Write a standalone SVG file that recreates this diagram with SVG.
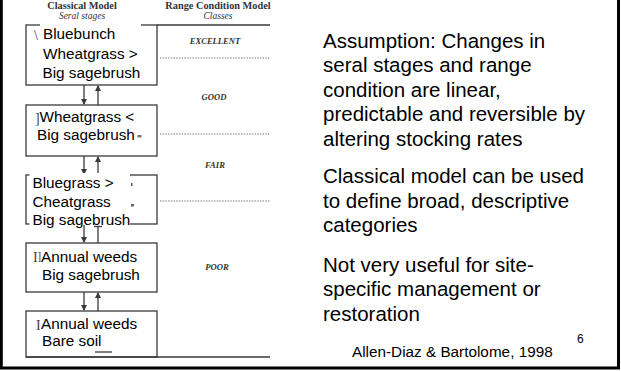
<svg xmlns="http://www.w3.org/2000/svg" width="621" height="371" viewBox="0 0 621 371">
<style>
.scan{fill:none;stroke:#3a3a3a;stroke-width:1.3}
.dot{fill:none;stroke:#7a7a7a;stroke-width:1;stroke-dasharray:1.5 1.2}
.lbl{fill:#fff}
.bt{font-family:"Liberation Sans",Arial,sans-serif;font-size:15.3px;fill:#000}
.hd{font-family:"Liberation Serif","Times New Roman",serif;font-size:10.3px;font-weight:bold;fill:#333;text-anchor:middle}
.hi{font-family:"Liberation Serif","Times New Roman",serif;font-size:9.5px;font-style:italic;fill:#333;text-anchor:middle}
.cls{font-family:"Liberation Serif","Times New Roman",serif;font-size:8.6px;font-style:italic;font-weight:bold;fill:#333;text-anchor:middle}
.rn{font-family:"Liberation Serif","Times New Roman",serif;font-size:14px;fill:#444}
.body{font-family:"Liberation Sans",Arial,sans-serif;font-size:20.5px;fill:#000}
.ref{font-family:"Liberation Sans",Arial,sans-serif;font-size:15.3px;fill:#000}
.ah{fill:#3a3a3a}
</style>
<defs>
<marker id="arr" viewBox="0 0 6 6" refX="5" refY="3" markerWidth="5" markerHeight="5" orient="auto">
<path d="M0,0 L6,3 L0,6 z" class="ah"/>
</marker>
</defs>
<rect width="621" height="371" fill="#fff"/>
<!-- slide frame -->
<path d="M1.3,-2 V368 H618.5 V-2" fill="none" stroke="#000" stroke-width="3"/>

<!-- header of scanned figure -->
<g id="header">
<text class="hd" x="82" y="8.5">Classical Model</text>
<text class="hi" x="82" y="19">Seral stages</text>
<text class="hd" x="218" y="8.5">Range Condition Model</text>
<text class="hi" x="218" y="19">Classes</text>
<line class="scan" x1="157" y1="25" x2="270" y2="25"/>
<line class="scan" x1="26" y1="357" x2="270" y2="357"/>
</g>

<!-- range classes -->
<g id="classes">
<text class="cls" x="215" y="44">EXCELLENT</text>
<line class="dot" x1="160" y1="58" x2="270" y2="58"/>
<text class="cls" x="214" y="100">GOOD</text>
<line class="dot" x1="160" y1="134" x2="270" y2="134"/>
<text class="cls" x="215" y="168">FAIR</text>
<line class="dot" x1="160" y1="201" x2="270" y2="201"/>
<text class="cls" x="217" y="270">POOR</text>
</g>

<!-- connectors -->
<g id="connectors">
<line class="scan" x1="84" y1="85" x2="84" y2="104" marker-end="url(#arr)"/>
<line class="scan" x1="98" y1="105" x2="98" y2="86" marker-end="url(#arr)"/>
<line class="scan" x1="84" y1="156" x2="84" y2="174" marker-end="url(#arr)"/>
<line class="scan" x1="98" y1="175" x2="98" y2="157" marker-end="url(#arr)"/>
<line class="scan" x1="84" y1="224" x2="84" y2="242" marker-end="url(#arr)"/>
<line class="scan" x1="98" y1="243" x2="98" y2="226"/>
<line class="scan" x1="94" y1="226.5" x2="102" y2="226.5"/>
<line class="scan" x1="84" y1="292" x2="84" y2="310" marker-end="url(#arr)"/>
<line class="scan" x1="98" y1="311" x2="98" y2="293" marker-end="url(#arr)"/>
</g>

<!-- seral stage boxes -->
<g id="stage1">
<rect class="scan" x="26" y="25" width="131" height="60"/>
<text class="rn" x="34" y="40">\</text>
<rect class="lbl" x="40" y="22" width="101" height="60"/>
<text class="bt" x="43" y="39">Bluebunch</text>
<text class="bt" x="43" y="59">Wheatgrass &gt;</text>
<text class="bt" x="42.5" y="78">Big sagebrush</text>
</g>

<g id="stage2">
<rect class="scan" x="26" y="105" width="131" height="51"/>
<text class="rn" x="35" y="123">]</text>
<rect class="lbl" x="39" y="108" width="98" height="38"/>
<text class="bt" x="39.5" y="122">Wheatgrass &lt;</text>
<text class="bt" x="37" y="140">Big sagebrush</text>
<rect x="137.5" y="135" width="4" height="2.5" fill="#777"/>
</g>

<g id="stage3">
<rect class="scan" x="26" y="175" width="131" height="49"/>
<rect class="lbl" x="29.5" y="173" width="100.5" height="52"/>
<text class="bt" x="32.5" y="188">Bluegrass &gt;</text>
<text class="bt" x="32.5" y="207">Cheatgrass</text>
<text class="bt" x="32.5" y="224.5">Big sagebrush</text>
<rect x="131" y="183" width="1.5" height="3" fill="#555"/>
<rect x="131" y="204" width="3" height="2.5" fill="#666"/>
</g>

<g id="stage4">
<rect class="scan" x="26" y="243" width="131" height="49"/>
<text class="rn" x="33" y="262">II</text>
<rect class="lbl" x="40.5" y="247" width="99" height="38"/>
<text class="bt" x="41" y="262">Annual weeds</text>
<text class="bt" x="42" y="280">Big sagebrush</text>
</g>

<g id="stage5">
<rect class="scan" x="26" y="311" width="131" height="46"/>
<text class="rn" x="36" y="330">I</text>
<rect class="lbl" x="40.5" y="315" width="99" height="36"/>
<text class="bt" x="41" y="329">Annual weeds</text>
<text class="bt" x="42" y="346">Bare soil</text>
<line class="scan" x1="95" y1="352" x2="112" y2="352"/>
</g>

<!-- slide text -->
<g id="bullets">
<text class="body" x="323" y="47.5">Assumption: Changes in</text>
<text class="body" x="323" y="72">seral stages and range</text>
<text class="body" x="323" y="96.5">condition are linear,</text>
<text class="body" x="323" y="121">predictable and reversible by</text>
<text class="body" x="323" y="145.5">altering stocking rates</text>
<text class="body" x="323" y="183">Classical model can be used</text>
<text class="body" x="323" y="207.5">to define broad, descriptive</text>
<text class="body" x="323" y="232">categories</text>
<text class="body" x="323" y="271.5">Not very useful for site-</text>
<text class="body" x="323" y="296">specific management or</text>
<text class="body" x="323" y="320.5">restoration</text>
</g>
<g id="footer">
<text class="ref" x="352" y="356.5">Allen-Diaz &amp; Bartolome, 1998</text>
<text class="ref" x="577" y="343" style="font-size:12px">6</text>
</g>
</svg>
